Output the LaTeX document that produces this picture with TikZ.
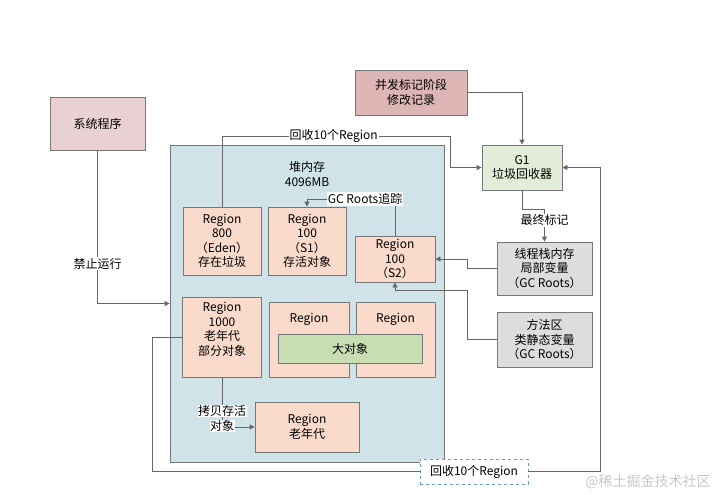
\documentclass[tikz,border=0pt]{standalone}
\usepackage{fontspec}
\setmainfont{Noto Sans CJK SC}
\usetikzlibrary{arrows.meta}
\definecolor{edgec}{HTML}{666666}
\definecolor{bordc}{HTML}{777777}
\definecolor{heapc}{HTML}{D0E3E9}
\definecolor{regc}{HTML}{FADBCB}
\definecolor{sysc}{HTML}{E8D0D3}
\definecolor{bfc}{HTML}{DDB5B5}
\definecolor{gonec}{HTML}{E3ECD9}
\definecolor{bigc}{HTML}{C9DDB2}
\definecolor{grayc}{HTML}{DDDDDD}
\definecolor{dashc}{HTML}{6A9BC3}
\tikzset{
  box/.style={draw=bordc, line width=0.8pt, rectangle, inner sep=0pt, align=center},
  txt/.style={inner sep=0pt, align=center},
  arr/.style={draw=edgec, line width=0.8pt, -{Triangle[length=5pt,width=5pt]}},
  ln/.style={draw=edgec, line width=0.8pt},
  lbl/.style={fill=white, inner sep=1pt, align=center},
}
\begin{document}
\begin{tikzpicture}[x=1pt,y=-1pt,font=\fontsize{12}{14.5}\selectfont]
\useasboundingbox[fill=white] (0,0) rectangle (721,495);
% heap
\node[box, fill=heapc, minimum width=274pt, minimum height=317pt] (heap) at (307,303.5) {};
\node[txt] (heapt) at (307,174) {堆内存\\4096MB};
% outside boxes
\node[box, fill=sysc, minimum width=95pt, minimum height=53pt] (sys) at (97.5,123.5) {系统程序};
\node[box, fill=bfc, minimum width=112pt, minimum height=45pt] (bf) at (411,92.5) {并发标记阶段\\修改记录};
\node[box, fill=gonec, minimum width=80pt, minimum height=45pt] (g1) at (522,167.5) {G1\\垃圾回收器};
\node[box, fill=grayc, minimum width=95pt, minimum height=53pt] (xc) at (544.5,268.5) {线程栈内存\\局部变量\\（GC Roots）};
\node[box, fill=grayc, minimum width=95pt, minimum height=55pt] (ff) at (544.5,339.5) {方法区\\类静态变量\\（GC Roots）};
% regions
\node[box, fill=regc, minimum width=78pt, minimum height=68pt] (eden) at (222,241) {Region\\800\\（Eden）\\存在垃圾};
\node[box, fill=regc, minimum width=78pt, minimum height=68pt] (s1) at (307,241) {Region\\100\\（S1）\\存活对象};
\node[box, fill=regc, minimum width=80pt, minimum height=46pt] (s2) at (395,259) {Region\\100\\（S2）};
\node[box, fill=regc, minimum width=79pt, minimum height=80pt] (r1000) at (222,337) {};
\node[txt] (r1000t) at (222,329.5) {Region\\1000\\老年代\\部分对象};
\node[box, fill=regc, minimum width=80pt, minimum height=75pt] (rmid) at (309,339.5) {};
\node[txt] (rmidt) at (309,319) {Region};
\node[box, fill=regc, minimum width=79pt, minimum height=75pt] (rright) at (395.5,339.5) {};
\node[txt] (rrightt) at (395.5,319) {Region};
\node[box, fill=bigc, minimum width=144pt, minimum height=29pt] (big) at (350,348.5) {大对象};
\node[box, fill=regc, minimum width=104pt, minimum height=50pt] (ro) at (307,427) {Region\\老年代};
% dashed label
\node[draw=dashc, dashed, line width=0.8pt, fill=white, minimum width=108pt, minimum height=25pt, inner sep=0pt] (dl) at (474,471.5) {回收10个Region};
% edges
\draw[arr] (sys.south) |- node[lbl, pos=0.37] {禁止运行} (heap.west);
\draw[arr] (eden.north) -- (222,136) -- node[lbl, pos=0.49] {回收10个Region} (450,136) -- (450,167.5) -- (g1.west);
\draw[arr] (bf.east) -| (g1.north);
\draw[arr] (g1.south) -- (522,209) -- (544.5,209) -- node[lbl, pos=0.35] {最终标记} (xc.north);
\draw[arr] (xc.west) -- (467,268.5) |- (s2.east);
\draw[arr] (ff.west) -- (467,339.5) |- (395,290) -- (s2.south);
\draw[arr] (s2.north) -- (395,199) -- node[lbl, pos=0.34] {GC Roots追踪} (307,199) -- (s1.north);
\draw[ln] (r1000.west) -- (152,337) |- (dl.west);
\draw[arr] (dl.east) -| (600,167.5) -- (g1.east);
\draw[arr] (r1000.south) |- (ro.west);
\node[lbl, inner sep=0.5pt] (cp1) at (222,411) {拷贝存活};
\node[lbl, inner sep=0.5pt] (cp2) at (222,426) {对象};
% watermark
\node[txt, text=black!22, font=\fontsize{14}{16}\selectfont] (wm) at (648,482) {@稀土掘金技术社区};
\end{tikzpicture}
\end{document}
